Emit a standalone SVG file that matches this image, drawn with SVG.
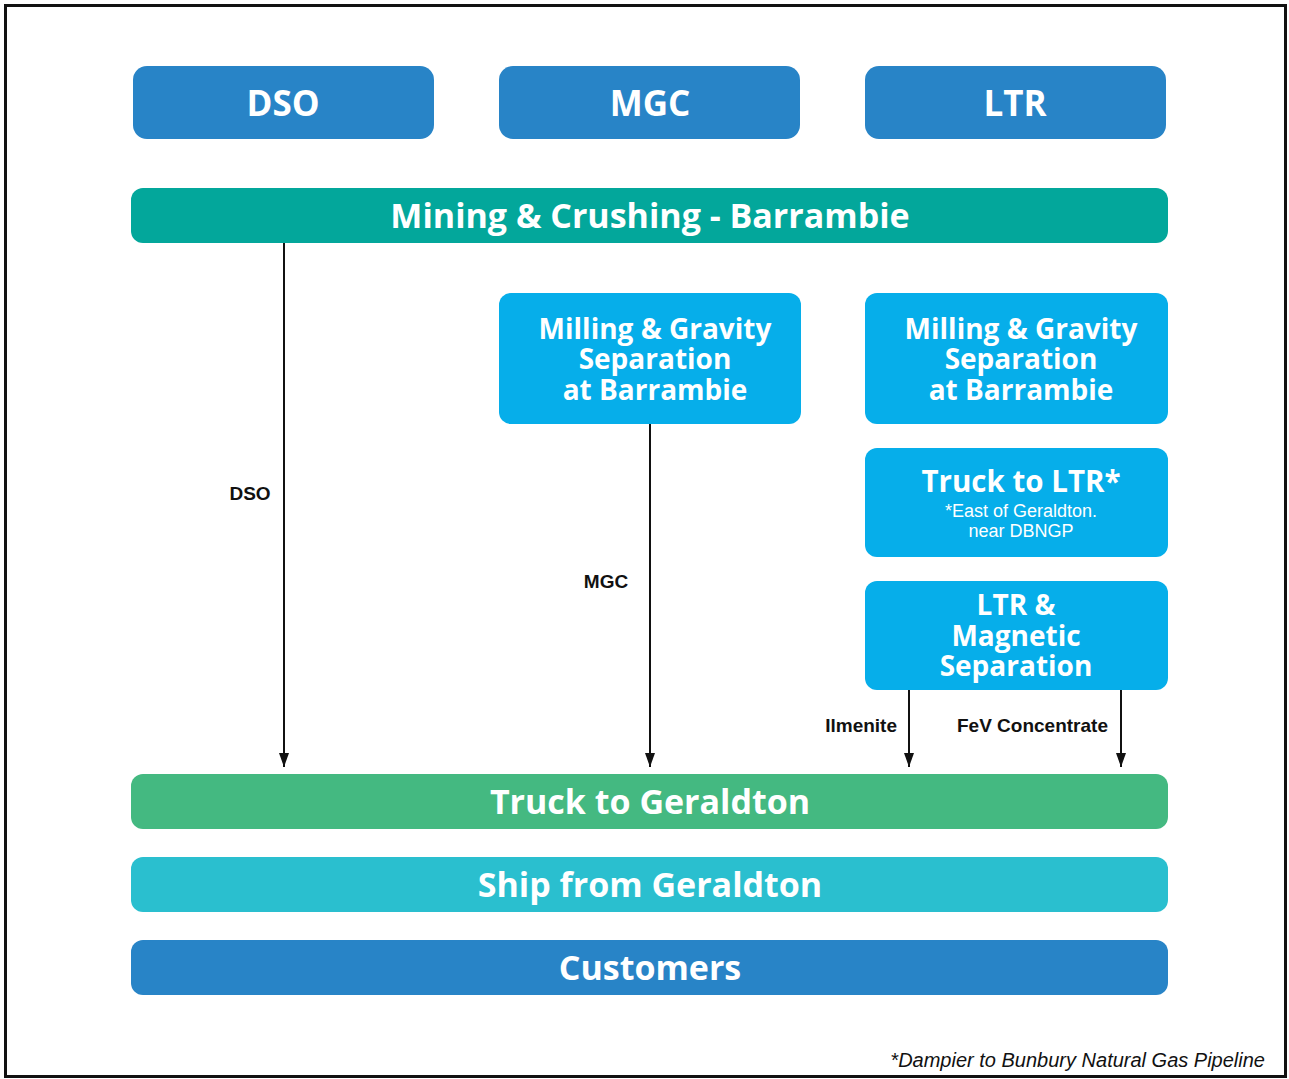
<svg xmlns="http://www.w3.org/2000/svg" width="1289" height="1079" viewBox="0 0 1289 1079">
<defs>
<style>
.t{font-family:"Open Sans","Liberation Sans",sans-serif;font-weight:700;fill:#fff;text-anchor:middle}
.big{font-size:35px}
.bar{font-size:34px}
.mid{font-size:28px}
.sub{font-family:"Liberation Sans",Arial,sans-serif;font-weight:400;font-size:18px;fill:#fff;text-anchor:middle}
.lbl{font-family:"Liberation Sans",Arial,sans-serif;font-weight:700;font-size:19px;fill:#111}
.conn{stroke:#111;stroke-width:2;fill:none}
.dblue{fill:#2884c7}
.lblue{fill:#06aeea}
</style>
<marker id="ah" viewBox="0 0 14 10" refX="14" refY="5" markerWidth="14" markerHeight="10" markerUnits="userSpaceOnUse" orient="auto">
<path d="M0,0 L14,5 L0,10 z" fill="#111"/>
</marker>
</defs>
<rect x="0" y="0" width="1289" height="1079" fill="#fff"/>
<rect x="5.5" y="5.5" width="1280" height="1071" fill="none" stroke="#111" stroke-width="3"/>

<g id="dso"><rect class="dblue" x="133" y="66" width="301" height="73" rx="14"/><text class="t big" x="283" y="116">DSO</text></g>
<g id="mgc"><rect class="dblue" x="499" y="66" width="301" height="73" rx="14"/><text class="t big" x="650" y="116">MGC</text></g>
<g id="ltr"><rect class="dblue" x="865" y="66" width="301" height="73" rx="14"/><text class="t big" x="1015" y="116">LTR</text></g>

<g id="mining"><rect x="131" y="188" width="1037" height="55" rx="12" fill="#03a79b"/><text class="t bar" x="650" y="228">Mining &amp; Crushing - Barrambie</text></g>

<g id="mill-mgc"><rect class="lblue" x="499" y="293" width="302" height="131" rx="12"/>
<text class="t mid" x="655" y="339">Milling &amp; Gravity<tspan x="655" dy="30">Separation</tspan><tspan x="655" dy="31">at Barrambie</tspan></text></g>

<g id="mill-ltr"><rect class="lblue" x="865" y="293" width="303" height="131" rx="12"/>
<text class="t mid" x="1021" y="339">Milling &amp; Gravity<tspan x="1021" dy="30">Separation</tspan><tspan x="1021" dy="31">at Barrambie</tspan></text></g>

<g id="truck-ltr"><rect class="lblue" x="865" y="448" width="303" height="109" rx="12"/>
<text class="t" style="font-size:29.5px" x="1021" y="492">Truck to LTR*</text>
<text class="sub" x="1021" y="517">*East of Geraldton.<tspan x="1021" dy="20">near DBNGP</tspan></text></g>

<g id="ltr-mag"><rect class="lblue" x="865" y="581" width="303" height="109" rx="12"/>
<text class="t mid" x="1016" y="615">LTR &amp;<tspan x="1016" dy="31">Magnetic</tspan><tspan x="1016" dy="30">Separation</tspan></text></g>

<g id="truck-ger"><rect x="131" y="774" width="1037" height="55" rx="12" fill="#44b981"/><text class="t bar" x="650" y="814">Truck to Geraldton</text></g>
<g id="ship"><rect x="131" y="857" width="1037" height="55" rx="12" fill="#2abfcf"/><text class="t bar" x="650" y="897">Ship from Geraldton</text></g>
<g id="customers"><rect class="dblue" x="131" y="940" width="1037" height="55" rx="12"/><text class="t bar" x="650" y="980">Customers</text></g>

<g id="connectors">
<line class="conn" x1="284" y1="243" x2="284" y2="767" marker-end="url(#ah)"/>
<line class="conn" x1="650" y1="424" x2="650" y2="767" marker-end="url(#ah)"/>
<line class="conn" x1="909" y1="690" x2="909" y2="767" marker-end="url(#ah)"/>
<line class="conn" x1="1121" y1="690" x2="1121" y2="767" marker-end="url(#ah)"/>
<text class="lbl" x="250" y="500" text-anchor="middle">DSO</text>
<text class="lbl" x="606" y="588" text-anchor="middle">MGC</text>
<text class="lbl" x="897" y="732" text-anchor="end">Ilmenite</text>
<text class="lbl" x="957" y="732">FeV Concentrate</text>
</g>

<text x="1265" y="1067" text-anchor="end" style="font-family:'Liberation Sans',Arial,sans-serif;font-style:italic;font-size:20px;fill:#111">*Dampier to Bunbury Natural Gas Pipeline</text>
</svg>
